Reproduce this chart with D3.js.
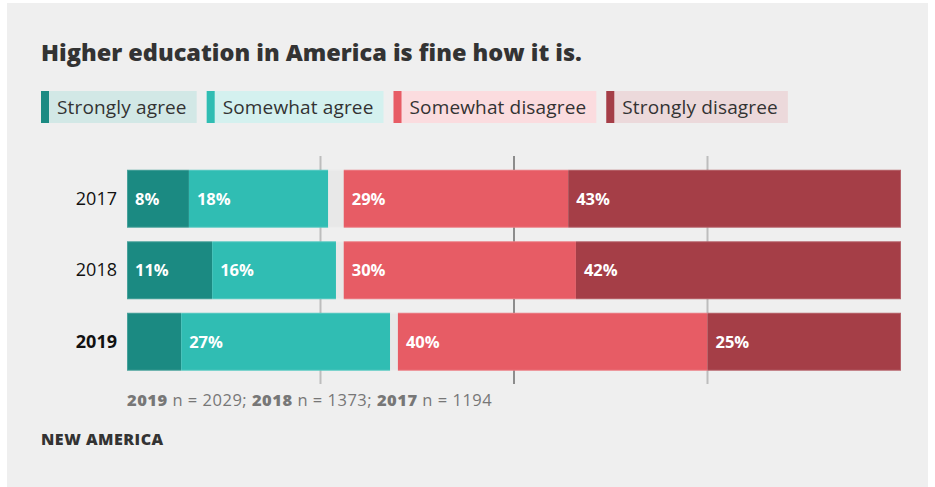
<!DOCTYPE html>
<html>
<head>
<meta charset="utf-8">
<script src="https://cdn.jsdelivr.net/npm/d3@7"></script>
<style>
  html, body { margin: 0; padding: 0; background: #ffffff; }
  svg { display: block; }
  text { font-family: "Open Sans", Lato, sans-serif; }
</style>
</head>
<body>
<svg id="chart" width="935" height="487"></svg>
<script>
// Survey responses by year (percent of respondents)
const years = ["2017", "2018", "2019"];
const categories = ["Strongly agree", "Somewhat agree", "Neither", "Somewhat disagree", "Strongly disagree"];
const stronglyAgree    = [8, 11, 7];
const somewhatAgree    = [18, 16, 27];
const neither          = [2, 1, 1];
const somewhatDisagree = [29, 30, 40];
const stronglyDisagree = [43, 42, 25];
const legendKeys = ["Strongly agree", "Somewhat agree", "Somewhat disagree", "Strongly disagree"];
const gridTicks = [25, 50, 75];
const sampleYears = ["2019", "2018", "2017"];
const sampleSizes = [2029, 1373, 1194];

const colors = {
  "Strongly agree": "#1b8a82",
  "Somewhat agree": "#30bdb3",
  "Neither": "#e8e8e8",
  "Somewhat disagree": "#e75c65",
  "Strongly disagree": "#a53e47"
};
const legendFills = {
  "Strongly agree": "#d2e8e6",
  "Somewhat agree": "#d4f1ef",
  "Somewhat disagree": "#fbdcdf",
  "Strongly disagree": "#ecd9db"
};

const rows = years.map((yr, i) => ({
  year: yr,
  "Strongly agree": stronglyAgree[i],
  "Somewhat agree": somewhatAgree[i],
  "Neither": neither[i],
  "Somewhat disagree": somewhatDisagree[i],
  "Strongly disagree": stronglyDisagree[i]
}));

const svg = d3.select("#chart");

// panel background
svg.append("rect").attr("x", 7).attr("y", 3).attr("width", 921).attr("height", 484).attr("fill", "#efefef");

// title
svg.append("text").attr("x", 41).attr("y", 61)
  .attr("font-size", 23.5).attr("font-weight", 800).attr("fill", "#333")
  .text("Higher education in America is fine how it is.");

// legend
const legend = svg.append("g").attr("transform", "translate(41,91)");
let lx = 0;
legendKeys.forEach(k => {
  const g = legend.append("g").attr("transform", `translate(${lx},0)`);
  const bg = g.append("rect").attr("height", 32).attr("fill", legendFills[k]);
  g.append("rect").attr("width", 8).attr("height", 32).attr("fill", colors[k]);
  const t = g.append("text").attr("x", 16).attr("y", 22.5).attr("font-size", 19)
    .attr("letter-spacing", 0.15).attr("fill", "#333").text(k);
  const w = 16 + t.node().getComputedTextLength() + 10;
  bg.attr("width", w);
  lx += w + 10;
});

// scales
const x = d3.scaleLinear().domain([0, 100]).range([127, 901]);
const y = d3.scaleBand().domain(years).range([163, 377.5]).paddingInner(0.19).paddingOuter(0.095);

// gridlines
svg.append("g").selectAll("line").data(gridTicks).join("line")
  .attr("x1", d => x(d)).attr("x2", d => x(d))
  .attr("y1", 156).attr("y2", 384)
  .attr("stroke", d => d === 50 ? "#8c8c8c" : "#bdbdbd")
  .attr("stroke-width", 2);

// stacked bars
const series = d3.stack().keys(categories)(rows);
const groups = svg.append("g").selectAll("g").data(series).join("g")
  .attr("fill", s => colors[s.key]);

groups.selectAll("rect").data(s => s.map(d => Object.assign(d, { key: s.key }))).join("rect")
  .attr("x", d => x(d[0]))
  .attr("y", d => y(d.data.year))
  .attr("width", d => Math.max(0, x(d[1]) - x(d[0])))
  .attr("height", y.bandwidth());

// light outline around each year's bar
svg.append("g").selectAll("rect").data(rows).join("rect")
  .attr("x", x(0) + 0.5).attr("y", d => y(d.year) + 0.5)
  .attr("width", x(100) - x(0) - 1).attr("height", y.bandwidth() - 1)
  .attr("fill", "none").attr("stroke", "#ffffff").attr("stroke-opacity", 0.2);

// value labels
groups.selectAll("text").data(s => s.filter(d => d.key !== "Neither" && (d[1] - d[0]) >= 8))
  .join("text")
  .attr("x", d => x(d[0]) + 8)
  .attr("y", d => y(d.data.year) + y.bandwidth() / 2 + 6)
  .attr("font-size", 16.5).attr("font-weight", 700).attr("fill", "#ffffff")
  .text(d => (d[1] - d[0]) + "%");

// year axis
const yAxis = svg.append("g").attr("transform", "translate(117,0)")
  .call(d3.axisLeft(y).tickSize(0).tickPadding(0));
yAxis.select(".domain").remove();
yAxis.selectAll("text")
  .attr("font-family", "'Liberation Sans', Arial, sans-serif").attr("font-size", 18)
  .attr("fill", "#111")
  .attr("font-weight", d => d === "2019" ? 700 : 400);

// sample sizes
const note = svg.append("text").attr("x", 127).attr("y", 406)
  .attr("font-size", 16.5).attr("letter-spacing", 0.5).attr("fill", "#777");
sampleYears.forEach((yr, i) => {
  note.append("tspan").attr("font-weight", 800).text(yr);
  note.append("tspan").text(` n = ${sampleSizes[i]}` + (i < sampleYears.length - 1 ? "; " : ""));
});

// source
svg.append("text").attr("x", 41).attr("y", 445)
  .attr("font-size", 16).attr("letter-spacing", 0.5).attr("font-weight", 800).attr("fill", "#333")
  .text("NEW AMERICA");
</script>
</body>
</html>
